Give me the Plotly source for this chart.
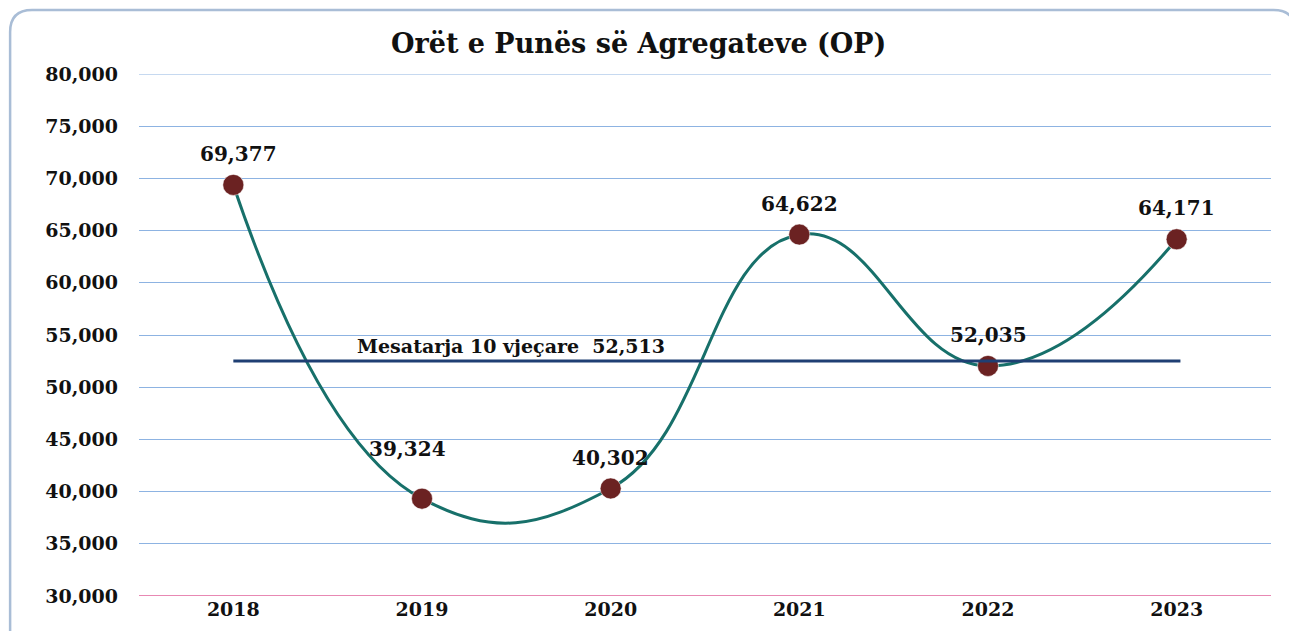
import plotly.graph_objects as go

years = ["2018", "2019", "2020", "2021", "2022", "2023"]
hours = [69377, 39324, 40302, 64622, 52035, 64171]
mean_label = "Mesatarja 10 vjeçare  52,513"
mean_value = 52513
title = "Orët e Punës së Agregateve (OP)"
y_ticks = [30000, 35000, 40000, 45000, 50000, 55000, 60000, 65000, 70000, 75000, 80000]

# label offsets (pixels) for data labels
label_dx = [5, -15, 0, 0, 0, 0]
label_dy = [31, 50, 30, 31, 31, 31]

OFF = 8  # page body margin
W, H = 1281, 623
# desired plot area in page pixels
PL, PR, PT, PB = 138.5, 1271.5, 74, 596
ml, mt = PL - OFF, PT - OFF
mr, mb = W - (PR - OFF), H - (PB - OFF)
pw, ph = PR - PL, PB - PT

SERIF = "DejaVu Serif"


def px_x(p):
    return (p - PL) / pw


def px_y(p):
    return (PB - p) / ph


fig = go.Figure()
fig.add_trace(go.Scatter(
    x=list(range(len(years))), y=hours, mode="lines+markers",
    line=dict(shape="spline", smoothing=1.3, color="#17706A", width=3),
    marker=dict(size=21, color="#6B2222", line=dict(width=0.5, color="#ffffff")),
    hoverinfo="skip", showlegend=False,
))

for i, v in enumerate(hours):
    fig.add_annotation(x=i, y=v, text=f"{v:,}", showarrow=False,
                       xshift=label_dx[i], yshift=label_dy[i],
                       font=dict(family=SERIF, size=20, color="#111111", weight="bold"))

fig.add_shape(type="line", xref="x", yref="y", x0=0, x1=5.02, y0=mean_value, y1=mean_value,
              line=dict(color="#1F3F73", width=3), layer="above")
fig.add_annotation(x=1.47, y=mean_value, text=mean_label, showarrow=False, yshift=15,
                   font=dict(family=SERIF, size=19, color="#111111", weight="bold"))

# rounded border box (page pixel coordinates)
x0, x1, y0, y1, r = 9.5, 1296, 10, 680, 22
path = (f"M {px_x(x0)},{px_y(y0 + r)} "
        f"Q {px_x(x0)},{px_y(y0)} {px_x(x0 + r)},{px_y(y0)} "
        f"L {px_x(x1 - r)},{px_y(y0)} "
        f"Q {px_x(x1)},{px_y(y0)} {px_x(x1)},{px_y(y0 + r)} "
        f"L {px_x(x1)},{px_y(y1 - r)} "
        f"Q {px_x(x1)},{px_y(y1)} {px_x(x1 - r)},{px_y(y1)} "
        f"L {px_x(x0 + r)},{px_y(y1)} "
        f"Q {px_x(x0)},{px_y(y1)} {px_x(x0)},{px_y(y1 - r)} Z")
fig.add_shape(type="path", xref="paper", yref="paper", path=path,
              line=dict(color="#A9BDD6", width=2.5), layer="below")

fig.add_annotation(xref="paper", yref="paper", x=px_x(638), y=px_y(44),
                   xanchor="center", yanchor="middle", text=title,
                   showarrow=False, font=dict(family=SERIF, size=27, color="#111111", weight="bold"))

fig.update_layout(
    width=W, height=H,
    margin=dict(l=ml, r=mr, t=mt, b=mb),
    paper_bgcolor="white", plot_bgcolor="white",
    xaxis=dict(range=[-0.5, 5.5], tickmode="array", tickvals=list(range(len(years))), ticktext=years,
               showgrid=False, zeroline=False, showline=False, ticks="",
               tickfont=dict(family=SERIF, size=19, color="#111111", weight="bold")),
    yaxis=dict(range=[30000, 80000], tickmode="array", tickvals=y_ticks,
               ticktext=[f"{t:,}" for t in y_ticks],
               showgrid=True, gridcolor="#8DB3E2", gridwidth=1, zeroline=False, showline=False,
               ticks="", ticklabelstandoff=20,
               tickfont=dict(family=SERIF, size=19, color="#111111", weight="bold")),
)
fig.add_shape(type="line", xref="paper", yref="y", x0=0, x1=1, y0=80000, y1=80000,
              line=dict(color="#8DB3E2", width=1), layer="below")
fig.add_shape(type="line", xref="paper", yref="y", x0=0, x1=1, y0=30000, y1=30000,
              line=dict(color="#E0609A", width=1.5), layer="above")

fig.write_html("out.html")
